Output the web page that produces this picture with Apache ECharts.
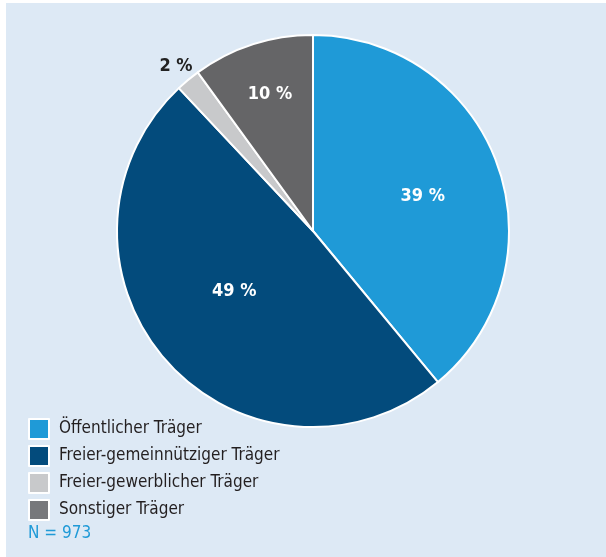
<!DOCTYPE html>
<html>
<head>
<meta charset="utf-8">
<script src="https://cdn.jsdelivr.net/npm/echarts@6/dist/echarts.min.js"></script>
<style>
html,body{margin:0;padding:0;background:#fff;width:606px;height:557px;overflow:hidden;}
#panel{position:absolute;left:6px;top:3px;width:600px;height:554px;background:#dde9f5;}
#chart{position:absolute;left:0;top:0;width:606px;height:557px;}
</style>
</head>
<body>
<div id="panel"></div>
<div id="chart"></div>
<script>
// Data
const categories = ['Öffentlicher Träger', 'Freier-gemeinnütziger Träger', 'Freier-gewerblicher Träger', 'Sonstiger Träger'];
const values = [39, 49, 2, 10];
const nLabel = 'N = 973';

// Styles
const colors = ['#1f9ad7', '#034b7c', '#c8c9cb', '#656567'];
const legendColors = ['#1f9ad7', '#034b7c', '#c8c9cb', '#77787b'];
const labelColors = ['#ffffff', '#ffffff', '#222222', '#ffffff'];
const labelRadiusFrac = [0.585, 0.50, 1.105, 0.728];
const labelOffsets = [[-1, 5], [-3, -6], [3, 5], [2, 2]];
const R = 196;
const center = [313, 231];
const FONT = '"Liberation Sans Narrow", "DejaVu Sans Condensed", "Arial Narrow", sans-serif';

const baseData = categories.map((c, i) => ({
  name: c, value: values[i],
  itemStyle: { color: colors[i] }
}));

const series = [{
  type: 'pie',
  radius: [0, R],
  center: center,
  startAngle: 90,
  clockwise: true,
  silent: true,
  label: { show: false },
  labelLine: { show: false },
  itemStyle: { borderColor: '#ffffff', borderWidth: 2 },
  data: baseData
}];

categories.forEach((c, i) => {
  const f = labelRadiusFrac[i];
  series.push({
    type: 'pie',
    radius: [(f - 0.04) * R, (f + 0.04) * R],
    center: center,
    startAngle: 90,
    clockwise: true,
    silent: true,
    legendHoverLink: false,
    labelLine: { show: false },
    itemStyle: { color: 'rgba(0,0,0,0)', borderWidth: 0 },
    data: categories.map((cc, j) => ({
      name: cc + '__lbl' + i,
      value: values[j],
      label: {
        show: j === i,
        position: 'inside',
        formatter: values[j] + ' %',
        color: labelColors[j],
        fontFamily: FONT,
        fontWeight: 'bold',
        fontSize: 18,
        offset: labelOffsets[j]
      }
    }))
  });
});

const chart = echarts.init(document.getElementById('chart'), null, { renderer: 'canvas' });
chart.setOption({
  backgroundColor: 'transparent',
  animation: false,
  legend: {
    data: categories.map((c, i) => ({ name: c, itemStyle: { color: legendColors[i], borderColor: '#ffffff', borderWidth: 2 } })),
    orient: 'vertical',
    left: 23,
    top: 413,
    padding: 5,
    itemWidth: 20,
    itemHeight: 20,
    itemGap: 5,
    icon: 'rect',
    selectedMode: false,
    textStyle: { fontFamily: FONT, fontSize: 17, lineHeight: 20, color: '#231f20', padding: [0, 0, 0, 5] }
  },
  title: {
    text: nLabel,
    left: 23,
    top: 520,
    textStyle: { fontFamily: FONT, fontSize: 17, fontWeight: 'normal', color: '#1f9ad7' }
  },
  series: series
});
</script>
</body>
</html>
